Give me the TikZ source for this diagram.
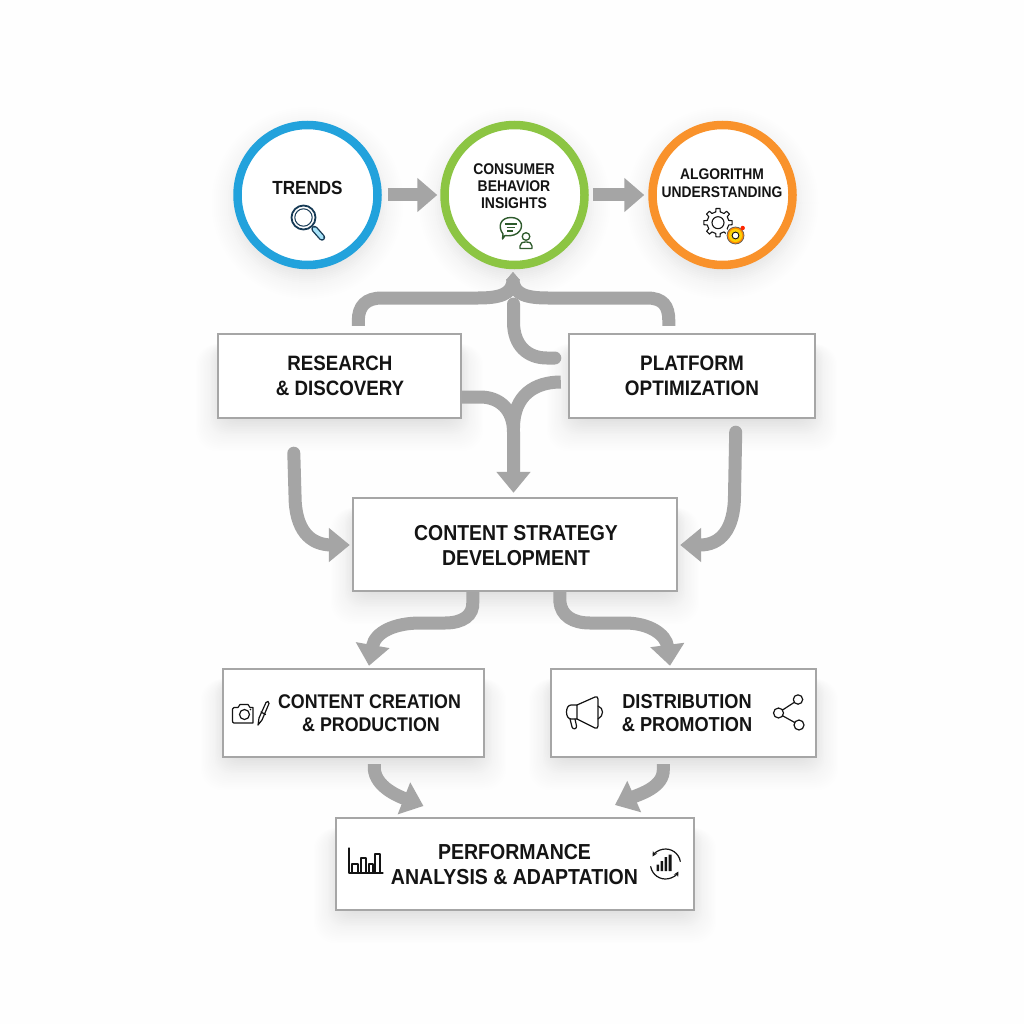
\documentclass[tikz,border=0pt]{standalone}
\usepackage{fontspec}
\setmainfont{Liberation Sans}[BoldFont={Liberation Sans Bold},BoldFeatures={FakeStretch=0.9}]
\usetikzlibrary{arrows.meta,calc}
\definecolor{conn}{HTML}{A5A5A5}
\definecolor{bord}{HTML}{A6A6A6}
\definecolor{ink}{HTML}{141414}
\definecolor{tblue}{HTML}{22A2DC}
\definecolor{cgreen}{HTML}{8CC543}
\definecolor{aorange}{HTML}{F9922B}
\definecolor{navy}{HTML}{163A55}
\definecolor{dgreen}{HTML}{2E5A2C}
\definecolor{paper}{HTML}{FEFEFE}
\tikzset{
  x=1pt,y=-1pt,
  boxn/.style={draw=bord,line width=2.4pt,fill=white,inner sep=0pt},
  circn/.style={circle,draw=#1,line width=8.5pt,fill=white,minimum size=140pt,inner sep=0pt},
  lab/.style 2 args={text=ink,align=center,inner sep=0pt,font=\bfseries\fontsize{#1}{#2}\selectfont},
  wire/.style={draw=conn,line width=13pt},
  hd/.style={wire,-{Triangle[length=21pt,width=33pt]}},
  apex/.style={wire,-{Triangle[length=8pt,width=13pt]}},
  icon/.style={draw=ink,line width=1.2pt,line join=round,line cap=round},
}
\newcommand{\boxshadow}[4]{%
  \foreach \d in {-10,-8,...,32}{%
    \fill[black,opacity=0.005,rounded corners=22pt] (#1-0.7*\d,#2+10) rectangle (#3+0.7*\d,#4+6+0.85*\d);}%
  \foreach \d in {-10,-8,...,12}{%
    \fill[black,opacity=0.005,rounded corners=14pt] (#1-0.7*\d,#2+10) rectangle (#3+0.7*\d,#4+6+0.85*\d);}}
\newcommand{\circshadow}[3]{%
  \foreach \d in {-8,-6,...,22}{%
    \fill[black,opacity=0.004] (#1,#2+8) circle[radius=#3+\d];}%
  \foreach \d in {-8,-6,...,6}{%
    \fill[black,opacity=0.005] (#1,#2+8) circle[radius=#3+\d];}}
\begin{document}
\begin{tikzpicture}
\useasboundingbox (0,0) rectangle (1024,1024);
\fill[paper] (0,0) rectangle (1024,1024);
% soft shadows
\circshadow{307.5}{195}{74}
\circshadow{514.5}{195}{74}
\circshadow{722.5}{195}{74}
\boxshadow{218}{334}{461}{418}
\boxshadow{569}{334}{815}{418}
\boxshadow{353}{498}{677}{591}
\boxshadow{223}{669}{484}{757}
\boxshadow{551}{669}{816}{757}
\boxshadow{336}{818}{694}{910}
% nodes
\node[circn=tblue] (tr) at (307.5,195) {};
\node[circn=cgreen] (con) at (514.5,195) {};
\node[circn=aorange] (alg) at (722.5,195) {};
\node[boxn,minimum width=243pt,minimum height=84pt] (res) at (339.5,376) {};
\node[boxn,minimum width=246pt,minimum height=84pt] (pla) at (692,376) {};
\node[boxn,minimum width=324pt,minimum height=93pt] (str) at (515,544.5) {};
\node[boxn,minimum width=261pt,minimum height=88pt] (cre) at (353.5,713) {};
\node[boxn,minimum width=265pt,minimum height=88pt] (dis) at (683.5,713) {};
\node[boxn,minimum width=358pt,minimum height=92pt] (per) at (515,864) {};
% labels
\node[lab={19}{22}] (ltr) at (307.5,187.5) {TRENDS};
\node[lab={15.5}{17}] (lcon) at (514,186.5) {CONSUMER\\BEHAVIOR\\INSIGHTS};
\node[lab={15.4}{18}] (lalg) at (722,183) {ALGORITHM\\UNDERSTANDING};
\node[lab={20.8}{24.5}] (lres) at (340,376) {RESEARCH\\\& DISCOVERY};
\node[lab={21}{24.5}] (lpla) at (692,376) {PLATFORM\\OPTIMIZATION};
\node[lab={21.6}{25}] (lstr) at (516,545.5) {CONTENT STRATEGY\\DEVELOPMENT};
\node[lab={19.8}{23}] (lcre) at (369.5,713.5) {CONTENT CREATION\\\hspace*{3pt}\& PRODUCTION};
\node[lab={20.2}{23}] (ldis) at (687,713.5) {DISTRIBUTION\\\& PROMOTION};
\node[lab={21.7}{25}] (lper) at (514.5,864.5) {PERFORMANCE\\ANALYSIS \& ADAPTATION};
% circle arrows
\draw[wire,-{Triangle[length=20pt,width=33pt]}] ([xshift=6]tr.east) -- ([xshift=-3]con.west);
\draw[wire,-{Triangle[length=20pt,width=33pt]}] ([xshift=4]con.east) -- ([xshift=-4]alg.west);
% connectors up to the middle circle
\coordinate (apexp) at (513,272);
\draw[apex] ($(res.north west)+(141.5,-7)$) -- ++(0,-5) .. controls +(0,-15) and (366,298) .. (382,298) -- (478,298) .. controls (498,298) and (513,295) .. (apexp);
\draw[apex] ($(pla.north west)+(101,-7)$) -- ++(0,-5) .. controls +(0,-15) and (663,298) .. (647,298) -- (548,298) .. controls (528,298) and (513,295) .. (apexp);
\draw[wire,line cap=round] ($(pla.west)+(-13,-18)$) -- +(-8,0) .. controls (528,358) and (513.5,346) .. (513.5,322) -- (513.5,304);
% into strategy
\draw[wire] ($(pla.west)+(-7,6)$) .. controls (535,382) and (513.5,395) .. (513.5,428);
\draw[hd] ($(res.east)+(0,21)$) -- (480,397) .. controls (500,397) and (513.5,410) .. (513.5,432) -- ([yshift=4]str.north -| 513.5,0);
\draw[hd,line cap=round] ($(res.south west)+(77,34)$) -- (295,495) .. controls (295,530) and (310,545) .. (332,545) -- ([xshift=-2]str.west |- 0,545);
\draw[hd,line cap=round] ($(pla.south east)+(-80.5,13)$) -- (734.5,495) .. controls (734.5,530) and (720,545) .. (700,545) -- ([xshift=2]str.east |- 0,545);
% strategy to creation / distribution
\draw[hd] ($(str.south west)+(121,0)$) -- +(0,9) .. controls (474,616) and (462,623) .. (445,623) -- (420,623) .. controls (395,623) and (375,632) .. ([yshift=2]cre.north -| 369,0);
\draw[hd] ($(str.south west)+(208,0)$) -- +(0,9) .. controls (561,616) and (573,623) .. (590,623) -- (625,623) .. controls (650,623) and (666,635) .. ([yshift=2]dis.north -| 670,0);
% into performance
\draw[hd] ($(cre.south west)+(152.5,6)$) -- +(0,5) .. controls (376,787) and (398,796) .. (423.5,806);
\draw[hd] ($(dis.south west)+(113.5,6)$) -- +(0,5) .. controls (664,787) and (640,794) .. (615,805);
% magnifier
\draw[navy,line width=1.8pt] (303.5,217.5) circle[radius=12];
\draw[navy,line width=1pt] (303.5,217.5) circle[radius=8.7];
\draw[navy,line width=6.5pt,line cap=round] (314.5,229) -- (322,237.5);
\draw[cyan!35,line width=3.8pt,line cap=round] (314.5,229) -- (322,237.5);
% chat + person
\draw[dgreen,line width=1.4pt,line join=round] (503,234) .. controls (497,226) and (501,217.5) .. (511,217.5) .. controls (522,217.5) and (525,228) .. (517,233.5) .. controls (513,236) and (508,236) .. (505,235.5) -- (502.5,239) -- cycle;
\draw[dgreen,line width=1.5pt] (505,224) -- (516.5,224) (506.5,227.5) -- (515,227.5) (507,231) -- (513,231);
\draw[dgreen,line width=1.3pt] (526,236.5) circle[radius=3.8];
\draw[dgreen,line width=1.3pt,line join=round] (520,248.5) -- (520,246) .. controls (520,243) and (522.5,242) .. (526,242) .. controls (529.5,242) and (532,243) .. (532,246) -- (532,248.5) -- cycle;
% gears
\draw[icon,line width=1.1pt] (718,222.7) circle[radius=6];
\draw[icon,line width=1.1pt] ($(718,222.7)+(-12:11)$) \foreach \a in {0,45,...,315}{ -- ($(718,222.7)+(\a-12:11)$) -- ($(718,222.7)+(\a-8:14.3)$) -- ($(718,222.7)+(\a+8:14.3)$) -- ($(718,222.7)+(\a+12:11)$)} -- cycle;
\fill[white] (735.5,235.5) circle[radius=10];
\fill[orange!90!yellow] (735.5,235.5) circle[radius=8.5];
\fill[yellow!70!orange] (735.5,235.5) circle[radius=6.6];
\fill[white] (735.5,235.5) circle[radius=3.4];
\draw[ink,line width=.9pt] (735.5,235.5) circle[radius=3.4];
\draw[ink!70,line width=.7pt] (735.5,235.5) circle[radius=8.5];
\fill[red!70!orange] (742.7,228) circle[radius=2.2];
% camera + pencil
\draw[icon] (234,707.5) -- (238,707.5) -- (240,704.5) -- (248,704.5) -- (250,707.5) -- (253,707.5) -- (253,723) -- (234,723) .. controls (233,723) and (232.5,722) .. (232.5,721) -- (232.5,709) .. controls (232.5,708) and (233,707.5) .. (234,707.5) -- cycle;
\draw[icon] (244.5,714.5) circle[radius=5];
\fill[ink] (250.5,709.5) circle[radius=.8];
\draw[icon] (258,725) -- (259,718) -- (266,702.5) .. controls (267,700.5) and (269.5,701.5) .. (269,703.5) -- (262,720) -- cycle (261,712) -- (265.5,714.5);
% megaphone
\draw[icon] (577,705) -- (571,705) .. controls (565,705) and (565,719) .. (571,719) -- (577,719) -- cycle;
\draw[icon] (577,705) -- (595,697) .. controls (596.5,696) and (598,697) .. (598,699) -- (598,726) .. controls (598,728) and (596.5,729) .. (595,728) -- (577,719);
\draw[icon] (598,706) .. controls (604,708) and (604,716) .. (598,719);
\draw[icon] (570,719) -- (572,727) .. controls (573,730) and (577,729) .. (576.5,726) -- (575,719);
% share
\draw[icon] (798,699.5) circle[radius=4.7] (778.5,713) circle[radius=5] (799,725) circle[radius=5] (782.5,710) -- (794,702.5) (783,716) -- (794.7,722.5);
% bar chart
\draw[icon,line width=1.1pt] (349,848) -- (349,873) -- (383,873) (352,872) -- (352,864) -- (358,864) -- (358,872) (361,872) -- (361,858) -- (366,858) -- (366,872) (369,872) -- (369,864) -- (373,864) -- (373,872) (375,872) -- (375,854) -- (380,854) -- (380,872);
% cycle chart
\draw[icon,-{Stealth[length=5pt,width=5pt]}] (680.3,861.4) arc[start angle=-10,end angle=-150,radius=15];
\draw[icon,-{Stealth[length=5pt,width=5pt]}] (650.7,866.6) arc[start angle=170,end angle=30,radius=15];
\fill[ink] (656.5,864.5) rectangle +(2.6,6.5) (660.5,861) rectangle +(2.6,10) (664.5,857) rectangle +(2.6,14) (668.5,854.5) rectangle +(3,16.5);
\end{tikzpicture}
\end{document}
